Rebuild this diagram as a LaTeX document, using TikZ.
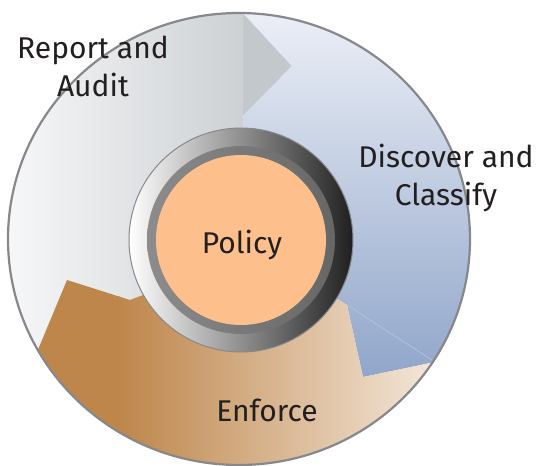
\documentclass[tikz,border=0pt]{standalone}
\usepackage{fontspec}
\setmainfont{Fira Sans}
\usetikzlibrary{positioning}
\definecolor{inktext}{HTML}{231F20}
\definecolor{rimgray}{HTML}{86888B}
\definecolor{reportL}{HTML}{FAFAFB}
\definecolor{reportR}{HTML}{CDD1D4}
\definecolor{reporttip}{HTML}{C3C8CC}
\definecolor{discoverT}{HTML}{F4F5FA}
\definecolor{discoverM}{HTML}{B6C3DC}
\definecolor{discoverB}{HTML}{90A6CA}
\definecolor{enforceL}{HTML}{BE864B}
\definecolor{enforceR}{HTML}{FAF3EB}
\definecolor{policyfill}{HTML}{FDC08D}
\tikzset{
    phase/.style={
           font=\fontsize{30}{38}\selectfont,
           text=inktext,
           align=center,
           inner sep=0pt,
           },
    ring/.style={
           circle,
           minimum size=224pt,
           inner sep=0pt,
           left color=white,
           middle color=black!35,
           right color=black!88,
           draw=rimgray, line width=1pt,
           },
    band/.style={
           circle,
           minimum size=188pt,
           inner sep=0pt,
           left color=black!45,
           right color=black!60,
           },
    core/.style={
           circle,
           minimum size=170pt,
           inner sep=0pt,
           fill=policyfill,
           },
}

\begin{document}
\begin{tikzpicture}[x=1pt, y=-1pt]
	\useasboundingbox (0,0) rectangle (539,466);
	\coordinate (hub) at (239,239);
	
	% the three arrow segments of the wheel
	\begin{scope}
		\clip (hub) ellipse [x radius=231, y radius=226];
		\shade[left color=reportL, right color=reportR] (-10,-10) rectangle (243,480);
		\fill[reporttip] (243,13) -- (292,66) -- (243,116) -- cycle;
		\shade[top color=discoverT, middle color=discoverM, bottom color=discoverB]
			(243,-20) -- (243,13) -- (292,66) -- (243,116) -- (hub)
			-- (347,305) -- (363,377) -- (435,362) -- (480,352) -- (480,-20) -- cycle;
		\begin{scope}
			\clip (hub) -- (347,305) -- (363,377) -- (435,362) -- (480,352)
				-- (480,480) -- (20,480) -- (20,393) -- (67,280) -- (130,300) -- (143,295) -- cycle;
			\fill[enforceL] (0,230) rectangle (120,480);
			\shade[left color=enforceL, right color=enforceR] (119,230) rectangle (475,480);
		\end{scope}
		\draw[discoverB!60!white, line width=0.5pt] (347,305) -- (435,362);
	\end{scope}
	\draw[rimgray, line width=2.2pt] (hub) ellipse [x radius=231, y radius=226];
	
	\node[ring] (ring) at (241,240) {};
	\node[band] (band) at (241,240) {};
	\node[core] (policy) at (241,240) {};
	
	\node[phase, anchor=base] (policytext) at (242,253) {Policy};
	\node[phase] (report) at (93,66) {Report and\\Audit};
	\node[phase] (discover) at (446,178) {Discover and\\Classify};
	\node[phase, anchor=base] (enforce) at (267,421) {Enforce};
\end{tikzpicture}
\end{document}
